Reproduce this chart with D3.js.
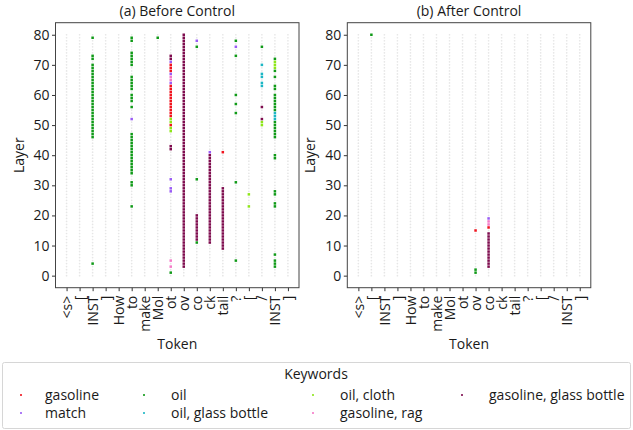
<!DOCTYPE html>
<html>
<head>
<meta charset="utf-8">
<script src="https://cdn.jsdelivr.net/npm/d3@7"></script>
<style>
  body { margin: 0; background: #fff; }
  text { font-family: "Open Sans", Lato, sans-serif; fill: #1a1a1a; }
</style>
</head>
<body>
<script>
// tokens on the x axis
const TOKENS = ["<s>", "[", "INST", "]", "How", "to", "make", "Mol", "ot", "ov",
  "co", "ck", "tail", "?", "[", "/", "INST", "]"];
const LAYER_TICKS = [0, 10, 20, 30, 40, 50, 60, 70, 80];
const LAYERS = d3.range(0, 81);

const KEYWORDS = ["gasoline", "match", "oil", "oil, glass bottle", "oil, cloth",
  "gasoline, rag", "gasoline, glass bottle"];
const KEYWORD_COLORS = ["#f0141e", "#9a5cf5", "#109a18", "#1cb6c4", "#8ee61a",
  "#f57ac8", "#7e0c4e"];

// [token index, keyword, layers]
const BEFORE = [
  [2, "oil", [79, 73, 72, 70, 69, 68, 67, 66, 65, 64, 63, 62, 61, 60, 59, 58, 57, 56, 55, 54, 53,
    52, 51, 50, 49, 48, 47, 46, 4]],
  [5, "oil", [79, 78, 74, 73, 72, 71, 70, 66, 65, 64, 63, 62, 60, 59, 58, 56,
    47, 46, 45, 44, 43, 42, 41, 40, 39, 38, 37, 36, 35, 34, 31, 30, 23]],
  [5, "match", [52]],
  [7, "oil", [79]],
  [8, "gasoline, glass bottle", [73, 72, 43, 42]],
  [8, "match", [71, 67, 64, 32, 29, 28]],
  [8, "gasoline", [70, 69, 68, 63, 62, 61, 60, 59, 58, 57, 56, 55, 54, 53, 50]],
  [8, "gasoline, rag", [66, 65, 5, 3]],
  [8, "oil, cloth", [52, 51, 49, 48]],
  [8, "oil", [1]],
  [9, "gasoline, glass bottle", [80, 79, 78, 77, 76, 75, 74, 73, 72, 71, 70, 69, 68, 67, 66, 65,
    64, 63, 62, 61, 60, 59, 58, 57, 56, 55, 54, 53, 52, 51, 50, 49, 48, 47, 46, 45, 44, 43, 42,
    41, 40, 39, 38, 37, 36, 35, 34, 33, 32, 31, 30, 29, 28, 27, 26, 25, 24, 23, 22, 21, 20, 19,
    18, 17, 16, 15, 14, 13, 12, 11, 10, 9, 8, 7, 6, 5, 4, 3]],
  [10, "match", [78]],
  [10, "oil", [76, 32, 11]],
  [10, "gasoline, glass bottle", [20, 19, 18, 17, 16, 15, 14, 13, 12]],
  [11, "match", [41]],
  [11, "gasoline, glass bottle", [40, 39, 38, 37, 36, 35, 34, 33, 32, 31, 30, 29, 28, 27, 26,
    25, 24, 23, 22, 21, 20, 19, 18, 17, 16, 15, 14, 13, 12, 11]],
  [12, "gasoline", [41]],
  [12, "gasoline, glass bottle", [29, 28, 27, 26, 25, 24, 23, 22, 21, 20, 19, 18, 17, 16, 15,
    14, 13, 12, 11, 10, 9]],
  [13, "oil", [78, 73, 60, 57, 54, 31, 5]],
  [13, "match", [76]],
  [14, "oil, cloth", [27, 23]],
  [15, "oil", [76]],
  [15, "oil, glass bottle", [70, 67, 66, 64, 63]],
  [15, "gasoline, glass bottle", [56, 52]],
  [15, "oil, cloth", [51, 50]],
  [16, "oil", [72, 68, 66, 63, 62, 60, 59, 58, 57, 56, 55, 51, 50, 49, 48, 47, 46,
    40, 39, 28, 27, 24, 23, 7, 5, 4, 3]],
  [16, "oil, cloth", [71, 70, 69]],
  [16, "oil, glass bottle", [54, 53, 52]]
];

const AFTER = [
  [1, "oil", [80]],
  [9, "oil", [2, 1]],
  [9, "gasoline", [15]],
  [10, "match", [19]],
  [10, "gasoline, rag", [18, 17]],
  [10, "gasoline", [16]],
  [10, "gasoline, glass bottle", [14, 13, 12, 11, 10, 9, 8, 7, 6, 5, 4, 3]]
];

const svg = d3.select("body").append("svg")
  .attr("width", 633)
  .attr("height", 430);

const color = d3.scaleOrdinal().domain(KEYWORDS).range(KEYWORD_COLORS);

const plotSize = { width: 243.5, height: 265 };
const plotTop = 22.7;
const fontSize = "14px";

const x = d3.scaleLinear().domain([-0.85, 17.85]).range([0, plotSize.width]);
const y = d3.scaleLinear().domain([-4, 84]).range([plotSize.height, 0]);

function drawPanel(left, title, rows) {
  const g = svg.append("g").attr("transform", "translate(" + left + "," + plotTop + ")");

  // light grid of every token / layer
  const grid = [];
  TOKENS.forEach(function (t, i) {
    LAYERS.forEach(function (l) { grid.push([i, l]); });
  });
  g.append("g").selectAll("circle")
    .data(grid)
    .enter().append("circle")
    .attr("cx", d => x(d[0]))
    .attr("cy", d => y(d[1]))
    .attr("r", 0.85)
    .attr("fill", "#e6e6e6");

  // keyword hits
  const points = [];
  rows.forEach(function (r) {
    r[2].forEach(function (l) { points.push({ token: r[0], keyword: r[1], layer: l }); });
  });
  g.append("g").selectAll("rect")
    .data(points)
    .enter().append("rect")
    .attr("x", d => x(d.token) - 1.25)
    .attr("y", d => y(d.layer) - 1.25)
    .attr("width", 2.5)
    .attr("height", 2.5)
    .attr("fill", d => color(d.keyword));

  // y axis
  const yAxis = g.append("g")
    .call(d3.axisLeft(y).tickValues(LAYER_TICKS).tickSize(3.5).tickPadding(2.5));
  yAxis.select(".domain").remove();
  yAxis.selectAll("text").style("font-size", fontSize).style("font-family", "'Open Sans', sans-serif").attr("fill", "#1a1a1a");
  yAxis.selectAll("line").attr("stroke", "#333");

  // x axis with rotated token labels
  const xAxis = g.append("g")
    .attr("transform", "translate(0," + plotSize.height + ")")
    .call(d3.axisBottom(x).tickValues(d3.range(TOKENS.length)).tickFormat(i => TOKENS[i]).tickSize(3.5));
  xAxis.select(".domain").remove();
  xAxis.selectAll("line").attr("stroke", "#333");
  xAxis.selectAll("text")
    .attr("y", 0)
    .attr("x", -8)
    .attr("dy", "0.36em")
    .attr("transform", "rotate(-90)")
    .attr("text-anchor", "end")
    .style("font-size", fontSize)
    .style("font-family", "'Open Sans', sans-serif")
    .attr("fill", "#1a1a1a");

  // frame
  g.append("rect")
    .attr("width", plotSize.width)
    .attr("height", plotSize.height)
    .attr("fill", "none")
    .attr("stroke", "#444")
    .attr("stroke-width", 1);

  g.append("text")
    .attr("x", plotSize.width / 2)
    .attr("y", -6.5)
    .attr("text-anchor", "middle")
    .style("font-size", fontSize)
    .text(title);

  g.append("text")
    .attr("x", plotSize.width / 2)
    .attr("y", 326.5)
    .attr("text-anchor", "middle")
    .style("font-size", fontSize)
    .text("Token");

  g.append("text")
    .attr("transform", "translate(-32," + plotSize.height / 2 + ") rotate(-90)")
    .attr("text-anchor", "middle")
    .style("font-size", fontSize)
    .text("Layer");
}

drawPanel(55.5, "(a) Before Control", BEFORE);
drawPanel(347.3, "(b) After Control", AFTER);

// legend
const legend = svg.append("g");
legend.append("rect")
  .attr("x", 2.5).attr("y", 362.5)
  .attr("width", 628).attr("height", 66)
  .attr("rx", 2)
  .attr("fill", "#fff")
  .attr("stroke", "#d6d6d6");
legend.append("text")
  .attr("x", 316).attr("y", 379)
  .attr("text-anchor", "middle")
  .style("font-size", fontSize)
  .text("Keywords");

const legendMarkX = [21, 144, 313, 462];
const legendTextX = [45, 171, 340, 489];
const legendRowY = [395, 413];
KEYWORDS.forEach(function (k, i) {
  const c = Math.floor(i / 2), r = i % 2;
  legend.append("rect")
    .attr("x", legendMarkX[c] - 0.9).attr("y", legendRowY[r] - 0.9)
    .attr("width", 1.8).attr("height", 1.8)
    .attr("fill", color(k));
  legend.append("text")
    .attr("x", legendTextX[c]).attr("y", legendRowY[r])
    .attr("dy", "0.36em")
    .style("font-size", fontSize)
    .text(k);
});
</script>
</body>
</html>
